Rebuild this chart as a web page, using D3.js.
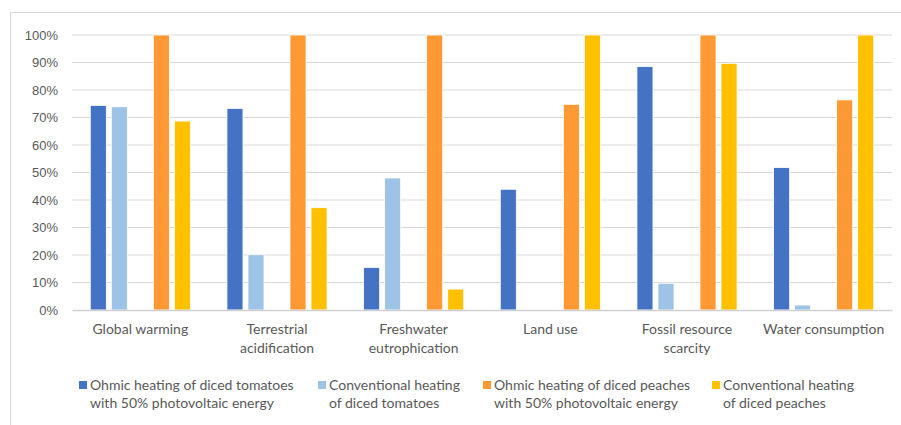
<!DOCTYPE html>
<html>
<head>
<meta charset="utf-8">
<script src="https://cdn.jsdelivr.net/npm/d3@7"></script>
<style>
  html, body { margin: 0; padding: 0; background: #fff; }
  svg { display: block; font-family: Lato, "Open Sans", sans-serif; }
</style>
</head>
<body>
<svg id="chart" width="901" height="425"></svg>
<script>
// Impact categories (label lines)
const categories = [
  ["Global warming"],
  ["Terrestrial", "acidification"],
  ["Freshwater", "eutrophication"],
  ["Land use"],
  ["Fossil resource", "scarcity"],
  ["Water consumption"]
];

// Relative impact of each scenario, % of the worst case per category
const ohmicTomatoes = [74.4, 73.3, 15.5, 43.9, 88.5, 51.8];
const conventionalTomatoes = [73.9, 20.1, 48.0, 0, 9.7, 1.8];
const ohmicPeaches = [100, 100, 100, 74.8, 100, 76.4];
const conventionalPeaches = [68.7, 37.2, 7.6, 100, 89.7, 100];

const seriesNames = [
  ["Ohmic heating of diced tomatoes", "with 50% photovoltaic energy"],
  ["Conventional heating", "of diced tomatoes"],
  ["Ohmic heating of diced peaches", "with 50% photovoltaic energy"],
  ["Conventional heating", "of diced peaches"]
];
const seriesValues = [ohmicTomatoes, conventionalTomatoes, ohmicPeaches, conventionalPeaches];
const seriesColors = ["#4472C4", "#9DC3E6", "#FF9933", "#FFC000"];

const yTicks = [0, 10, 20, 30, 40, 50, 60, 70, 80, 90, 100];

// Slots inside each cluster; the "spacer" slot stays empty
const slots = ["s0", "s1", "spacer", "s2", "s3"];
const seriesSlot = ["s0", "s1", "s2", "s3"];

const svg = d3.select("#chart");
const textColor = "#595959";

// Chart frame
svg.append("rect")
  .attr("x", 10.5).attr("y", 12.5)
  .attr("width", 900).attr("height", 420)
  .attr("fill", "none").attr("stroke", "#d9d9d9").attr("stroke-width", 1);

const plot = { left: 72, right: 892, top: 35, bottom: 310 };

const x0 = d3.scaleBand()
  .domain(d3.range(categories.length))
  .range([plot.left, plot.right])
  .paddingInner(0).paddingOuter(0);

const x1 = d3.scaleBand()
  .domain(slots)
  .range([0, x0.bandwidth()])
  .paddingInner(0.238)
  .paddingOuter(0.87);

const y = d3.scaleLinear().domain([0, 100]).range([plot.bottom, plot.top]);

// Gridlines
svg.append("g")
  .selectAll("line")
  .data(yTicks.filter(d => d > 0))
  .join("line")
  .attr("x1", plot.left).attr("x2", plot.right)
  .attr("y1", d => y(d)).attr("y2", d => y(d))
  .attr("stroke", "#d9d9d9").attr("stroke-width", 1.2);

// Y axis labels
const yAxis = d3.axisLeft(y)
  .tickValues(yTicks)
  .tickFormat(d => d + "%")
  .tickSize(0)
  .tickPadding(14);
const yg = svg.append("g")
  .attr("transform", `translate(${plot.left},0)`)
  .call(yAxis);
yg.select(".domain").remove();
yg.selectAll("text")
  .attr("fill", textColor)
  .style("font-size", "13px");

// Bars
const groups = svg.append("g")
  .selectAll("g")
  .data(seriesValues)
  .join("g")
  .attr("fill", (d, i) => seriesColors[i]);

groups.each(function(values, si) {
  d3.select(this)
    .selectAll("rect")
    .data(values.map((v, ci) => ({ v, ci })))
    .join("rect")
    .filter(d => d.v > 0)
    .attr("x", d => x0(d.ci) + x1(seriesSlot[si]))
    .attr("width", x1.bandwidth())
    .attr("y", d => y(d.v))
    .attr("height", d => y(0) - y(d.v))
    .attr("stroke", "#fff")
    .attr("stroke-width", 0.8);
});

// Category axis
const xAxis = d3.axisBottom(x0).tickSize(0).tickFormat("");
const xg = svg.append("g")
  .attr("transform", `translate(0,${plot.bottom})`)
  .call(xAxis);
xg.select(".domain")
  .attr("stroke", "#d0d0d0").attr("stroke-width", 1.6);

const catLabels = svg.append("g")
  .selectAll("text")
  .data(categories)
  .join("text")
  .attr("x", (d, i) => x0(i) + x0.bandwidth() / 2)
  .attr("y", 334)
  .attr("text-anchor", "middle")
  .attr("fill", textColor)
  .style("font-size", "14px");
catLabels.selectAll("tspan")
  .data(d => d)
  .join("tspan")
  .attr("x", function() { return d3.select(this.parentNode).attr("x"); })
  .attr("dy", (d, i) => i === 0 ? 0 : 19)
  .text(d => d);

// Legend
const legendX = [79, 318, 483, 712];
const legend = svg.append("g")
  .selectAll("g")
  .data(seriesNames)
  .join("g")
  .attr("transform", (d, i) => `translate(${legendX[i]},381)`);

legend.append("rect")
  .attr("width", 8).attr("height", 8)
  .attr("fill", (d, i) => seriesColors[i]);

legend.append("text")
  .attr("x", 11)
  .attr("y", 8.5)
  .attr("fill", textColor)
  .style("font-size", "14px")
  .selectAll("tspan")
  .data(d => d)
  .join("tspan")
  .attr("x", 11)
  .attr("dy", (d, i) => i === 0 ? 0 : 18.5)
  .text(d => d);
</script>
</body>
</html>
